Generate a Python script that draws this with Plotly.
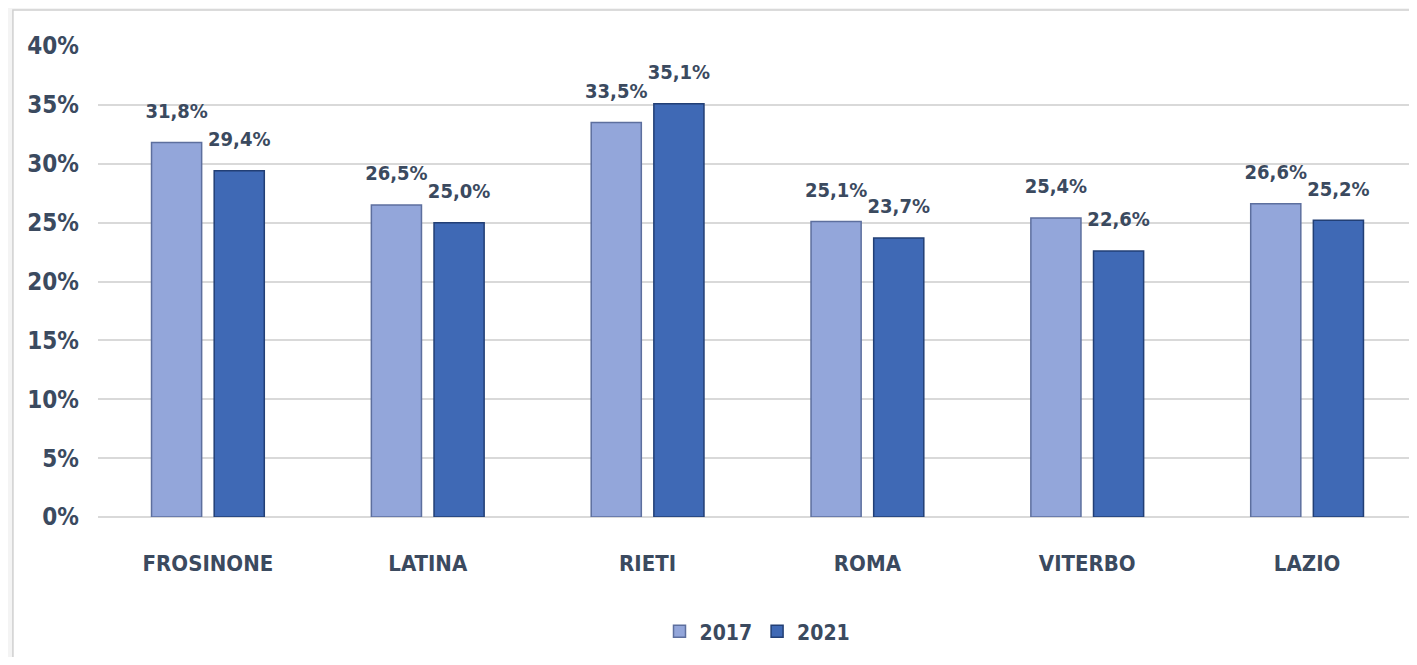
import plotly.graph_objects as go

# --- dati ---
province = ["FROSINONE", "LATINA", "RIETI", "ROMA", "VITERBO", "LAZIO"]
val_2017 = [31.8, 26.5, 33.5, 25.1, 25.4, 26.6]
val_2021 = [29.4, 25.0, 35.1, 23.7, 22.6, 25.2]

FONT = "DejaVu Sans Condensed, Liberation Sans Narrow, sans-serif"
TXT = "#3b4a5f"
GAP = 0.43

fig = go.Figure()

serie = [("2017", val_2017, "#93a6da", "#5d6f9e"),
         ("2021", val_2021, "#3f69b5", "#223f75")]

for nome, valori, colore, bordo in serie:
    fig.add_trace(go.Bar(
        x=province, y=valori, name=f"<b>{nome}</b>",
        marker=dict(color=colore, line=dict(color=bordo, width=1.5)),
        offsetgroup=nome,
        hoverinfo="skip",
    ))

# etichette dati (staccate dalla barra come nell'originale)
for nome, valori, colore, bordo in serie:
    fig.add_trace(go.Scatter(
        x=province, y=valori, mode="markers+text",
        marker=dict(size=30, color="rgba(0,0,0,0)"),
        text=[f"{v:.1f}%".replace(".", ",") for v in valori],
        textposition="top center",
        textfont=dict(family=FONT, size=20, color=TXT, weight="bold"),
        offsetgroup=nome, showlegend=False, cliponaxis=False,
    ))

# cornice del grafico
fig.add_shape(type="rect", xref="paper", yref="paper",
              x0=-0.0645, x1=1.02, y0=-0.4, y1=1.0764,
              line=dict(color="#d0d0d0", width=1.5), fillcolor="white",
              layer="below")

# la pagina ha un margine di 8px: figura ridotta di conseguenza
fig.update_layout(
    width=1409, height=649,
    paper_bgcolor="#f4f4f4", plot_bgcolor="white",
    margin=dict(l=90, r=0, t=38, b=140),
    barmode="group", bargap=GAP, bargroupgap=0.2,
    scattermode="group", scattergap=GAP,
    separators=",.",
    font=dict(family=FONT, color=TXT, weight="bold"),
    showlegend=True,
    legend=dict(orientation="h", x=0.5, xanchor="center", y=-0.2, yanchor="top",
                font=dict(family=FONT, size=21, color=TXT),
                bgcolor="rgba(0,0,0,0)",
                itemwidth=30, traceorder="normal"),
)

fig.update_yaxes(
    range=[0, 40], dtick=5, ticksuffix="%",
    showgrid=True, gridcolor="#d9d9d9", gridwidth=2,
    zeroline=True, zerolinecolor="#d9d9d9", zerolinewidth=2,
    tickfont=dict(family=FONT, size=24, color=TXT, weight="bold"),
    ticklabelstandoff=18, showline=False,
)
fig.update_xaxes(
    showline=False, ticks="",
    tickfont=dict(family=FONT, size=22, color=TXT, weight="bold"),
    ticklabelstandoff=31,
)

fig.write_html("out.html")
